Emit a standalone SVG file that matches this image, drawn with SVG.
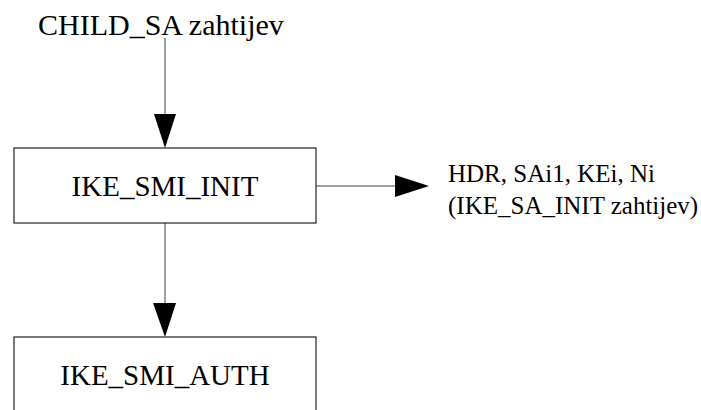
<svg xmlns="http://www.w3.org/2000/svg" width="701" height="410" viewBox="0 0 701 410">
<style>
.box{fill:#fff;stroke:#222;stroke-width:1.2}
.t{font-family:"Liberation Serif","Times New Roman",serif;fill:#000}
.big{font-size:29px}
.top{font-size:30px}
.small{font-size:25px}
.c{stroke:#808080;stroke-width:1.5;fill:none}
.h{fill:#000}
</style>
<rect width="701" height="410" fill="#fff"/>
<text class="t top" x="38" y="35">CHILD_SA zahtijev</text>
<g id="connectors">
<line class="c" x1="165" y1="38" x2="165" y2="116"/>
<polygon class="h" points="154,114 176,114 165,148"/>
<line class="c" x1="165" y1="223" x2="165" y2="305"/>
<polygon class="h" points="153,303 176,303 165,337"/>
<line class="c" x1="316" y1="186" x2="397" y2="186"/>
<polygon class="h" points="395,175 395,197 429,186"/>
</g>
<g id="ike_smi_init">
<rect class="box" x="14" y="148" width="302" height="75"/>
<text class="t big" x="165" y="196" text-anchor="middle">IKE_SMI_INIT</text>
</g>
<g id="ike_smi_auth">
<rect class="box" x="14" y="337" width="302" height="90"/>
<text class="t big" x="165" y="385" text-anchor="middle">IKE_SMI_AUTH</text>
</g>
<g id="label">
<text class="t small" x="448" y="182">HDR, SAi1, KEi, Ni</text>
<text class="t small" x="448" y="214">(IKE_SA_INIT zahtijev)</text>
</g>
</svg>
